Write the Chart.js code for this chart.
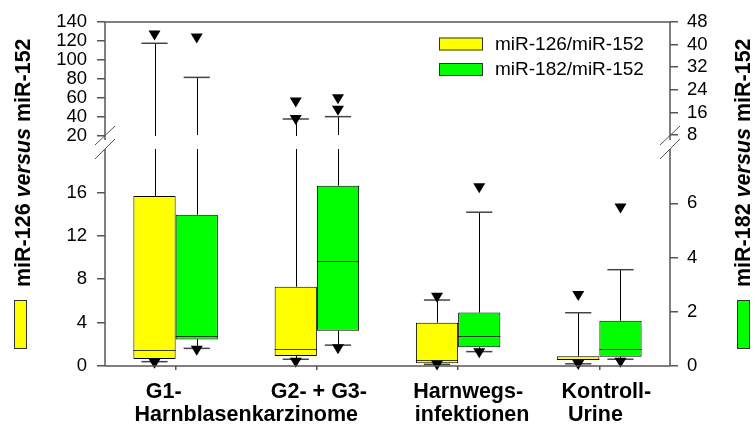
<!DOCTYPE html>
<html>
<head>
<meta charset="utf-8">
<script src="https://cdn.jsdelivr.net/npm/chart.js@4/dist/chart.umd.min.js"></script>
<style>
  body { margin: 0; background: #fff; }
  #wrap { width: 755px; height: 425px; }
</style>
</head>
<body>
<div id="wrap"><canvas id="chartCanvas"></canvas></div>
<script>
// Chart data

var categories = [['G1-'], ['G2- + G3-'], ['Harnwegs-', 'infektionen'], ['Kontroll-', 'Urine']]
var sharedLabel = 'Harnblasenkarzinome'
var seriesNames = ['miR-126/miR-152', 'miR-182/miR-152']

// miR-126 / miR-152 (left axis)
var yellowLow = [0.4, 0.62, 0.15, 0.2]
var yellowQ1 = [0.65, 0.92, 0.25, 0.55]
var yellowMedian = [1.47, 1.57, 0.55, 0.62]
var yellowQ3 = [15.67, 7.31, 3.99, 0.9]
var yellowHigh = [117.6, 37.9, 6.08, 4.91]
var yellowMarks = [[0.2, 125.8], [0.3, 36.8, 55.3], [0.05, 6.3], [0.1, 6.45]]

// miR-182 / miR-152 (right axis)
var greenLow = [0.65, 0.77, 0.53, 0.25]
var greenQ1 = [0.98, 1.30, 0.69, 0.34]
var greenMedian = [1.12, 3.87, 1.11, 0.62]
var greenQ3 = [5.58, 6.65, 1.97, 1.67]
var greenHigh = [28.4, 14.5, 5.67, 3.55]
var greenMarks = [[0.56, 42.2], [0.62, 16.6, 20.7], [0.47, 6.55], [0.12, 5.81]]

// axis ticks (broken axes)
var leftLowerTicks = [0, 4, 8, 12, 16]
var leftUpperTicks = [20, 40, 60, 80, 100, 120, 140]
var rightLowerTicks = [0, 2, 4, 6]
var rightUpperTicks = [8, 16, 24, 32, 40, 48]
var leftBreak = 20
var rightBreak = 8

var FONT = '"Liberation Sans", Arial, sans-serif'
var AXIS_COLOR = '#555'

function fixTicks(list) {
    return function(scale) {
        scale.ticks = list.map(v => ({ value: v }))
    }
}

function yAxis(pos, stack, weight, stackWeight, min, max, list, pad) {
    return {
        type: 'linear',
        position: pos,
        stack: stack,
        weight: weight,
        stackWeight: stackWeight,
        min: min,
        max: max,
        afterBuildTicks: fixTicks(list),
        afterFit: s => { s.width = pos === 'left' ? 105 : 85 },
        ticks: { color: '#000', font: { family: FONT, size: 18.5 }, padding: pad, autoSkip: false },
        grid: { drawOnChartArea: false, tickLength: 8, color: AXIS_COLOR, lineWidth: 1.5 },
        border: { display: false }
    }
}

// value -> pixel, picking the part of the broken axis
function yPix(chart, side, v) {
    var lo = chart.scales[side === 'L' ? 'yLLo' : 'yRLo']
    var up = chart.scales[side === 'L' ? 'yLUp' : 'yRUp']
    var brk = side === 'L' ? leftBreak : rightBreak
    return v <= brk ? lo.getPixelForValue(v) : up.getPixelForValue(v)
}

function line(ctx, x1, y1, x2, y2) {
    ctx.beginPath()
    ctx.moveTo(x1, y1)
    ctx.lineTo(x2, y2)
    ctx.stroke()
}

var boxPlugin = {
    id: 'boxExtras',
    afterDatasetsDraw(chart) {
        var ctx = chart.ctx
        ctx.save()
        chart.data.datasets.forEach((ds, d) => {
            var meta = chart.getDatasetMeta(d)
            var side = ds.side
            var lo = chart.scales[side === 'L' ? 'yLLo' : 'yRLo']
            var up = chart.scales[side === 'L' ? 'yLUp' : 'yRUp']
            var brk = side === 'L' ? leftBreak : rightBreak
            meta.data.forEach((bar, i) => {
                var x = bar.x
                var w = bar.width
                var q1 = ds.data[i][0], q3 = ds.data[i][1]
                // median
                ctx.strokeStyle = 'rgba(0,0,0,0.75)'
                ctx.lineWidth = 1
                var ym = Math.round(yPix(chart, side, ds.median[i])) + 0.5
                line(ctx, x - w / 2, ym, x + w / 2, ym)
                // whiskers
                ctx.strokeStyle = '#000'
                ctx.lineWidth = 1
                var xl = Math.round(x) + 0.5
                if (ds.high[i] > brk) {
                    line(ctx, xl, yPix(chart, side, q3), xl, lo.getPixelForValue(brk))
                    line(ctx, xl, up.getPixelForValue(brk), xl, up.getPixelForValue(ds.high[i]))
                } else {
                    line(ctx, xl, yPix(chart, side, q3), xl, yPix(chart, side, ds.high[i]))
                }
                line(ctx, xl, yPix(chart, side, q1), xl, yPix(chart, side, ds.low[i]))
                ctx.strokeStyle = '#444'
                ctx.lineWidth = 1.5
                var cw = w * 0.31
                var yh = yPix(chart, side, ds.high[i]), yl = yPix(chart, side, ds.low[i])
                line(ctx, x - cw, yh, x + cw, yh)
                line(ctx, x - cw, yl, x + cw, yl)
                // extreme values
                ctx.fillStyle = '#000'
                ds.marks[i].forEach(v => {
                    var y = yPix(chart, side, v)
                    ctx.beginPath()
                    ctx.moveTo(x - 6, y - 5)
                    ctx.lineTo(x + 6, y - 5)
                    ctx.lineTo(x, y + 5)
                    ctx.closePath()
                    ctx.fill()
                })
            })
        })
        ctx.restore()
    },
    afterDraw(chart) {
        var ctx = chart.ctx
        var a = chart.chartArea
        var xs = chart.scales.x
        ctx.save()

        // axis lines with breaks
        ctx.strokeStyle = AXIS_COLOR
        ctx.lineWidth = 1.5
        line(ctx, a.left, a.top, a.right, a.top)
        line(ctx, a.left, a.bottom, a.right, a.bottom)
        var upEnd = chart.scales.yLUp.getPixelForValue(leftBreak) + 4
        var loStart = chart.scales.yLLo.getPixelForValue(leftBreak)
        ;[a.left, a.right].forEach(x => {
            line(ctx, x, a.top, x, upEnd)
            line(ctx, x, loStart, x, a.bottom)
            ctx.lineWidth = 1
            line(ctx, x - 10, upEnd + 5, x + 10, upEnd - 14)
            line(ctx, x - 10, loStart + 10, x + 10, loStart - 10)
            ctx.lineWidth = 1.5
        })

        // legend
        ctx.font = '19px ' + FONT
        ctx.textBaseline = 'middle'
        ctx.textAlign = 'left'
        chart.data.datasets.forEach((ds, d) => {
            var y = 37.5 + d * 25.5
            ctx.fillStyle = ds.backgroundColor
            ctx.fillRect(439, y, 44, 13)
            ctx.strokeStyle = '#333'
            ctx.lineWidth = 1
            ctx.strokeRect(439.5, y + 0.5, 43, 12)
            ctx.fillStyle = '#000'
            ctx.fillText(ds.label, 495, y + 7)
        })

        // y axis titles
        function title(x, y, parts) {
            ctx.save()
            ctx.translate(x, y)
            ctx.rotate(-Math.PI / 2)
            ctx.textBaseline = 'alphabetic'
            ctx.fillStyle = '#000'
            var px = 0
            parts.forEach(p => {
                ctx.font = (p.italic ? 'italic ' : '') + 'bold 21.5px ' + FONT
                ctx.fillText(p.t, px, 0)
                px += ctx.measureText(p.t).width
            })
            ctx.restore()
        }
        title(30, 287, [{ t: 'miR-126 ' }, { t: 'versus', italic: true }, { t: ' miR-152' }])
        title(750, 287, [{ t: 'miR-182 ' }, { t: 'versus', italic: true }, { t: ' miR-152' }])
        ctx.fillStyle = '#ffff00'
        ctx.fillRect(14, 300, 13, 49)
        ctx.strokeStyle = '#333'
        ctx.strokeRect(14.5, 300.5, 12, 48)
        ctx.fillStyle = '#00ff00'
        ctx.fillRect(737, 300, 13, 49)
        ctx.strokeRect(737.5, 300.5, 12, 48)

        // category labels
        ctx.font = 'bold 21.5px ' + FONT
        ctx.fillStyle = '#000'
        ctx.textAlign = 'center'
        ctx.textBaseline = 'alphabetic'
        var nudges = [[-12], [2], [10, 14], [7, -4]]
        categories.forEach((lines, i) => {
            var cx = xs.getPixelForValue(i)
            lines.forEach((t, j) => {
                ctx.fillText(t, cx + nudges[i][j], 398 + j * 23)
            })
        })
        ctx.fillText(sharedLabel, (xs.getPixelForValue(0) + xs.getPixelForValue(1)) / 2, 421)
        ctx.restore()
    }
}

function LoadChart() {
    var chartData = {
        labels: categories.map(c => c.join(' ')),
        datasets: [{
            label: seriesNames[0],
            side: 'L',
            yAxisID: 'yLLo',
            data: categories.map((c, i) => [yellowQ1[i], yellowQ3[i]]),
            median: yellowMedian,
            low: yellowLow,
            high: yellowHigh,
            marks: yellowMarks,
            backgroundColor: '#ffff00',
            borderColor: '#000',
            borderWidth: 1,
            borderSkipped: false
        }, {
            label: seriesNames[1],
            side: 'R',
            yAxisID: 'yRLo',
            data: categories.map((c, i) => [greenQ1[i], greenQ3[i]]),
            median: greenMedian,
            low: greenLow,
            high: greenHigh,
            marks: greenMarks,
            backgroundColor: '#00ff00',
            borderColor: '#000',
            borderWidth: 1,
            borderSkipped: false
        }]
    }

    var ctx = document.getElementById('chartCanvas').getContext('2d')
    new Chart(ctx, {
        type: 'bar',
        data: chartData,
        options: {
            responsive: true,
            maintainAspectRatio: false,
            animation: false,
            devicePixelRatio: 1,
            barPercentage: 1,
            categoryPercentage: 0.598,
            layout: { padding: { top: 22, left: 0, right: 0, bottom: 0 } },
            plugins: { legend: { display: false }, tooltip: { enabled: false } },
            scales: {
                x: {
                    type: 'category',
                    offset: true,
                    afterFit: s => { s.height = 59 },
                    ticks: { display: false },
                    grid: { drawOnChartArea: false, offset: false, tickLength: 4, color: AXIS_COLOR, lineWidth: 1.5 },
                    border: { display: false }
                },
                yLUp: yAxis('left', 'L', 2, 120.5, 13.16, 140, leftUpperTicks, 10),
                yLLo: yAxis('left', 'L', 1, 223.5, 0, 20.6, leftLowerTicks, 10),
                yRUp: yAxis('right', 'R', 1, 120.5, 5.35, 48, rightUpperTicks, 9),
                yRLo: yAxis('right', 'R', 2, 223.5, 0, 8.24, rightLowerTicks, 9)
            }
        },
        plugins: [boxPlugin]
    })
}

LoadChart()
</script>
</body>
</html>
